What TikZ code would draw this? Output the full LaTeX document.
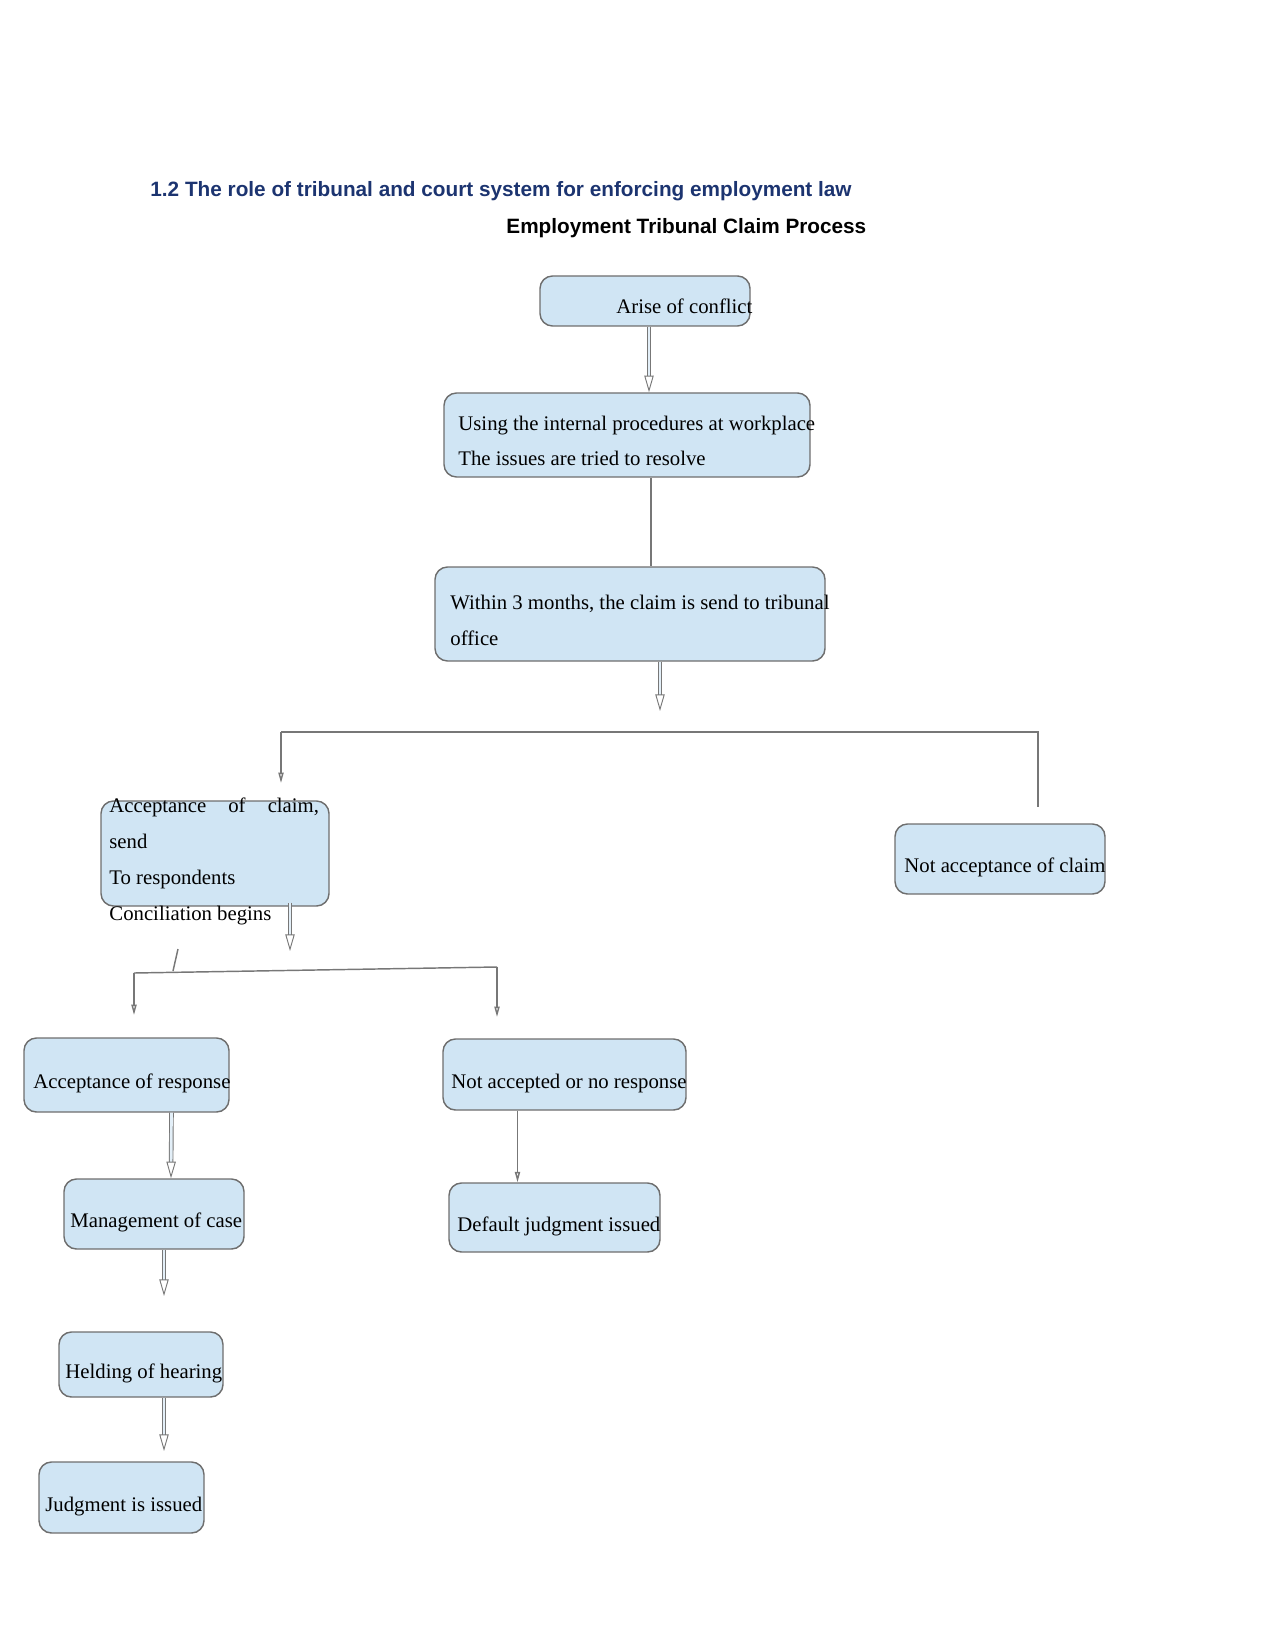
\documentclass[tikz,border=0pt]{standalone}
\usepackage{fontspec}
\setmainfont{Liberation Serif}
\setsansfont{Liberation Sans}
\usetikzlibrary{arrows.meta, positioning, fit, calc}
\definecolor{boxfill}{HTML}{D0E5F4}
\definecolor{boxedge}{HTML}{6E6E6E}
\definecolor{linegray}{HTML}{777777}
\definecolor{headblue}{HTML}{1C3470}
\tikzset{
  box/.style={draw=boxedge, line width=0.7pt, rounded corners=6pt, fill=boxfill,
              inner sep=0pt},
  txt/.style={anchor=base west, inner sep=0pt, align=left,
              font=\fontsize{10}{17.2}\selectfont},
  head/.style={anchor=base west, inner sep=0pt, font=\sffamily\bfseries\fontsize{10}{12}\selectfont},
  dflow/.style={draw=linegray, line width=0.45pt, double=boxfill!60, double distance=1.3pt,
                -{Triangle[open, length=8pt, width=4.5pt]}},
  sflow/.style={draw=linegray, line width=0.7pt, -{Triangle[open, length=5pt, width=2.5pt]}},
  link/.style={draw=linegray, line width=0.7pt},
}

\begin{document}
\begin{tikzpicture}[x=0.4818pt, y=-0.4818pt]
  \useasboundingbox (0,0) rectangle (1275,1650);
  % headings
  \node (title) [head, text=headblue] at (150,197) {1.2 The role of tribunal and court system for enforcing employment law};
  \node (subtitle) [head] at (506,234) {Employment Tribunal Claim Process};

  % boxes
  \node (arise)   [box, fit={(540,276) (750,326)}] {};
  \node (using)   [box, fit={(444,393) (810,477)}] {};
  \node (within)  [box, fit={(435,567) (825,661)}] {};
  \node (claim)   [box, fit={(101,801) (329,906)}] {};
  \node (notacc)  [box, fit={(895,824) (1105,894)}] {};
  \node (accresp) [box, fit={(24,1038) (229,1112)}] {};
  \node (notresp) [box, fit={(443,1039) (686,1110)}] {};
  \node (mgmt)    [box, fit={(64,1179) (244,1249)}] {};
  \node (default) [box, fit={(449,1183) (660,1252)}] {};
  \node (hearing) [box, fit={(59,1332) (223,1397)}] {};
  \node (judgment)[box, fit={(39,1462) (204,1533)}] {};

  % texts (multi-line ones sit on their last baseline)
  \node (arisetxt)   [txt] at (616,314) {Arise of conflict};
  \node (usingtxt)   [txt] at (458,466) {Using the internal procedures at workplace\\The issues are tried to resolve};
  \node (withintxt)  [txt] at (450,645) {Within 3 months, the claim is send to tribunal\\office};
  \node (claimtxt)   [txt] at (109,920) {\makebox[101pt][s]{Acceptance\hfill of\hfill claim,}\\send\\To respondents\\Conciliation begins};
  \node (notacctxt)  [txt] at (904,872) {Not acceptance of claim};
  \node (accresptxt) [txt] at (33,1088) {Acceptance of response};
  \node (notresptxt) [txt] at (451,1088) {Not accepted or no response};
  \node (mgmttxt)    [txt] at (70,1227) {Management of case};
  \node (defaulttxt) [txt] at (457,1231) {Default judgment issued};
  \node (hearingtxt) [txt] at (65,1378) {Helding of hearing};
  \node (judgmenttxt)[txt] at (45,1511) {Judgment is issued};

  % free ends
  \coordinate (split) at (660,711);
  \coordinate (lt) at (281,732);
  \coordinate (lb) at (281,783);
  \coordinate (rt) at (1038,732);
  \coordinate (rb) at (1038,807);
  \coordinate (cend) at (290,951);
  \coordinate (tick) at (178,949);
  \coordinate (tickb) at (173,971);
  \coordinate (lt2) at (134,973);
  \coordinate (lb2) at (134,1015);
  \coordinate (rt2) at (497,967);
  \coordinate (rb2) at (497,1017);
  \coordinate (mend) at (164,1296);
  \coordinate (hend) at (164,1451);

  % connectors
  \draw[dflow] ($(arise.south)+(4,0)$) -- ($(using.north)+(22,0)$);
  \draw[link] ($(using.south)+(24,0)$) -- ($(within.north)+(21,0)$);
  \draw[dflow] (within.south -| split) -- (split);
  \draw[sflow] (lt) -- (lb);
  \draw[link] (lt) -- (rt) -- (rb);
  \draw[dflow] ($(claim.south)+(75,-4)$) -- (cend);
  \draw[link] (tick) -- (tickb);
  \draw[link] (lt2) -- (rt2);
  \draw[sflow] (lt2) -- (lb2);
  \draw[sflow] (rt2) -- (rb2);
  \draw[dflow] ($(accresp.south)+(45,0)$) -- ($(mgmt.north)+(17,0)$);
  \draw[sflow] ($(notresp.south)+(-47,0)$) -- ($(default.north)+(-37,0)$);
  \draw[dflow] ($(mgmt.south)+(10,0)$) -- (mend);
  \draw[dflow] ($(hearing.south)+(23,0)$) -- (hend);
\end{tikzpicture}
\end{document}
